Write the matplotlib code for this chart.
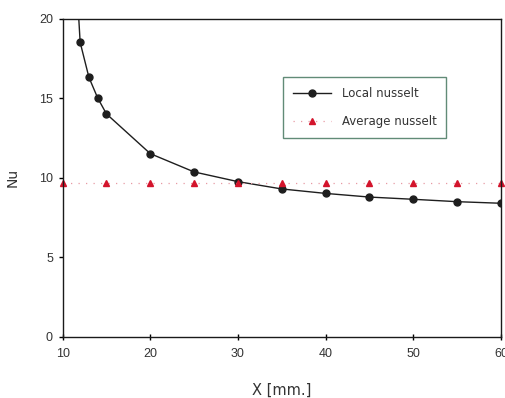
import matplotlib
matplotlib.use("Agg")
import matplotlib.pyplot as plt

# local nusselt number along the plate
x_local = [11, 12, 13, 14, 15, 20, 25, 30, 35, 40, 45, 50, 55, 60]
nu_local = [28.0, 18.5, 16.3, 15.0, 14.0, 11.5, 10.35, 9.74, 9.28, 9.0, 8.77, 8.63, 8.48, 8.38]

# average nusselt number
x_avg = [10, 15, 20, 25, 30, 35, 40, 45, 50, 55, 60]
nu_avg = [9.67] * len(x_avg)

fig = plt.figure(figsize=(5.05, 3.98), dpi=100)
ax = fig.add_axes([0.124, 0.1545, 0.868, 0.799])

ax.plot(x_local, nu_local, color='#1e1e1e', lw=1.0, marker='o', ms=5,
        label='Local nusselt')
ax.plot(x_avg, nu_avg, color='#e89aa4', lw=0.9, ls=(0, (1, 5)),
        marker='^', ms=4.5, mfc='#d3142c', mec='#d3142c',
        label='Average nusselt', clip_on=False)

ax.set_xlim(10, 60)
ax.set_ylim(0, 20)
ax.set_xticks([10, 20, 30, 40, 50, 60])
ax.set_yticks([0, 5, 10, 15, 20])

for s in ax.spines.values():
    s.set_linewidth(1.0)
    s.set_color('#1a1a1a')

ax.tick_params(axis='y', direction='out', length=3, width=1, pad=4,
               labelsize=9, labelcolor='#333333')
ax.tick_params(axis='x', direction='inout', length=5, width=1, pad=6,
               labelsize=9, labelcolor='#333333')
for t in ax.get_xticklabels() + ax.get_yticklabels():
    t.set_fontfamily('Liberation Sans')

ax.set_ylabel('Nu', fontsize=10, color='#333333', labelpad=14)
ax.set_xlabel('X [mm.]', fontsize=10.5, color='#333333', labelpad=16)

leg = ax.legend(loc='upper left', bbox_to_anchor=(0.503, 0.816),
                fontsize=8.5, frameon=True, fancybox=False,
                borderpad=0.85, labelspacing=1.25, handlelength=3.2,
                handletextpad=0.9, borderaxespad=0)
leg.get_frame().set_edgecolor('#3a6e55')
leg.get_frame().set_linewidth(1.0)
for t in leg.get_texts():
    t.set_color('#333333')

plt.savefig('out.png', dpi=100)
plt.close()
